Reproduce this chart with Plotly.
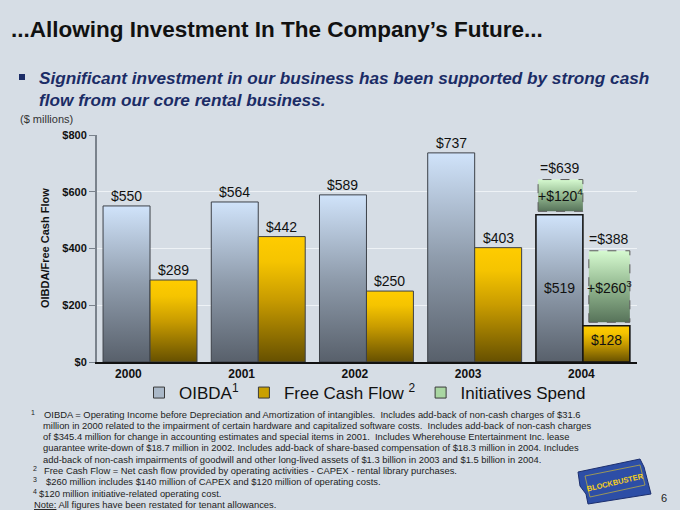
import plotly.graph_objects as go

# ---------------- data ----------------
years = ["2000", "2001", "2002", "2003", "2004"]
oibda = [550, 564, 589, 737, 519]
free_cash_flow = [289, 442, 250, 403, 128]
initiatives_oibda_2004 = 120
initiatives_fcf_2004 = 260
y_ticks = [0, 200, 400, 600, 800]
y_tick_labels = ["$0", "$200", "$400", "$600", "$800"]

# ---------------- style / layout ----------------
W, H = 680, 510
L, R, T, B = 97, 637, 135, 362          # plot area in px
FONT = "Liberation Sans, Arial, sans-serif"
BG = "#d6dde5"
BAR_W = 0.434
XR = [-0.49, 4.5]

OIBDA_SCALE = [[0, "#58606b"], [0.5, "#8f9cac"], [1, "#d0e3fa"]]
FCF_SCALE = [[0, "#665000"], [0.5, "#c99c00"], [0.8, "#f5c400"], [1, "#ffcc00"]]
GREEN_SCALE = [[0, "#57735a"], [0.5, "#93b890"], [1, "#d6fad0"]]


def px_x(p):
    return (p - L) / (R - L)


def px_y(p):
    return (B - p) / (B - T)


fig = go.Figure()


def add_bar(x0, x1, y0, y1, scale, border, bw, dash="solid"):
    fig.add_trace(go.Scatter(
        x=[x0, x1, x1, x0, x0], y=[y0, y0, y1, y1, y0],
        mode="lines", fill="toself",
        fillgradient=dict(type="vertical", colorscale=scale),
        line=dict(color=border, width=bw, dash=dash),
        hoverinfo="skip", showlegend=False))


LBL = dict(size=14, color="#111", family=FONT)
annotations = []
for i, yr in enumerate(years):
    last = i == len(years) - 1
    border = "#151515" if last else "#3c4048"
    bw = 1.6 if last else 1
    add_bar(i - BAR_W, i, 0, oibda[i], OIBDA_SCALE, border, bw)
    add_bar(i, i + BAR_W, 0, free_cash_flow[i], FCF_SCALE, border, bw)
    if not last:
        annotations.append(dict(x=i - BAR_W / 2, y=oibda[i], xref="x", yref="y",
                                text=f"${oibda[i]}", showarrow=False, xanchor="center",
                                yanchor="bottom", font=LBL))
        annotations.append(dict(x=i + BAR_W / 2, y=free_cash_flow[i], xref="x", yref="y",
                                text=f"${free_cash_flow[i]}", showarrow=False, xanchor="center",
                                yanchor="bottom", font=LBL))
    else:
        annotations.append(dict(x=i - BAR_W / 2, y=oibda[i] / 2, xref="x", yref="y",
                                text=f"${oibda[i]}", showarrow=False, xanchor="center",
                                yanchor="middle", font=LBL))
        annotations.append(dict(x=i + BAR_W / 2, y=free_cash_flow[i] / 2, xref="x", yref="y",
                                text=f"${free_cash_flow[i]}", showarrow=False, xanchor="center",
                                yanchor="middle", yshift=4, font=LBL))

# initiatives boxes for 2004
k = len(years) - 1
tot_o = oibda[k] + initiatives_oibda_2004
tot_f = free_cash_flow[k] + initiatives_fcf_2004
GAP = 12
for x0, x1, v, tot, extra, sup in [
    (k - BAR_W + 0.02, k, oibda[k], tot_o, initiatives_oibda_2004, "4"),
    (k + 0.055, k + BAR_W, free_cash_flow[k], tot_f, initiatives_fcf_2004, "3"),
]:
    y0, y1 = v + GAP, tot + 4
    add_bar(x0, x1, y0, y1, GREEN_SCALE, "#5a5a5a", 1, dash="dash")
    annotations.append(dict(x=(x0 + x1) / 2, y=(y0 + y1) / 2, xref="x", yref="y",
                            text=f"+${extra}<sup>{sup}</sup>", showarrow=False,
                            xanchor="center", yanchor="middle", font=LBL))
    annotations.append(dict(x=(x0 + x1) / 2, y=y1, xref="x", yref="y",
                            text=f"=${tot}", showarrow=False, xanchor="center",
                            yanchor="bottom", yshift=2, font=LBL))

# legend entries
for name, col in [("OIBDA<sup>1</sup>", "#aab8c8"),
                  ("Free Cash Flow <sup>2</sup>", "#c9a000"),
                  ("Initiatives Spend", "#a9d6a2")]:
    fig.add_trace(go.Scatter(x=[None], y=[None], mode="markers", name=name,
                             marker=dict(symbol="square", size=11, color=col,
                                         line=dict(color="#3a3a3a", width=1))))


def note(xp, yp, text, size, xanchor="left", yanchor="middle", **kw):
    d = dict(x=px_x(xp), y=px_y(yp), xref="paper", yref="paper", xanchor=xanchor,
             yanchor=yanchor, text=text, showarrow=False,
             font=dict(size=size, color=kw.pop("color", "#222"), family=FONT,
                       weight=kw.pop("weight", "normal")))
    d.update(kw)
    return d


annotations += [
    note(9, 30, "...Allowing Investment In The Company’s Future...", 22.5, color="#111", weight="bold"),
    note(37, 66, "<i>Significant investment in our business has been supported by strong cash<br>"
                 "flow from our core rental business.</i>", 17.2, yanchor="top",
         color="#1b2c66", weight="bold", align="left"),
    note(18, 119, "($ millions)", 11, color="#333"),
    note(45, 248, "OIBDA/Free Cash Flow", 11, xanchor="center", color="#111",
         weight="bold", textangle=-90),
    note(664, 498, "6", 11, xanchor="center"),
    note(615, 482, "BLOCKBUSTER", 7.5, xanchor="center", color="#f7d21b",
         weight="bold", textangle=-13),
]

foot = [
    (29, 42, "1", "OIBDA = Operating Income before Depreciation and Amortization of intangibles.  Includes add-back of non-cash charges of $31.6"),
    (None, 41, "", "million in 2000 related to the impairment of certain hardware and capitalized software costs.  Includes add-back of non-cash charges"),
    (None, 41, "", "of $345.4 million for change in accounting estimates and special items in 2001.  Includes Wherehouse Entertainment Inc. lease"),
    (None, 41, "", "guarantee write-down of $18.7 million in 2002. Includes add-back of share-based compensation of $18.3 million in 2004. Includes"),
    (None, 41, "", "add-back of non-cash impairments of goodwill and other long-lived assets of $1.3 billion in 2003 and $1.5 billion in 2004."),
    (31, 42, "2", "Free Cash Flow = Net cash flow provided by operating activities - CAPEX - rental library purchases."),
    (31, 44, "3", "$260 million includes $140 million of CAPEX and $120 million of operating costs."),
    (31, 37, "4", "$120 million initiative-related operating cost."),
    (None, 32, "", "<u>Note:</u> All figures have been restated for tenant allowances."),
]
fy0 = 414
for j, (sx, tx, sup, txt) in enumerate(foot):
    yy = fy0 + j * 11.3
    if sup:
        annotations.append(note(sx, yy - 2, sup, 7))
    annotations.append(note(tx, yy, txt, 9.4))

shapes = [
    dict(type="rect", xref="paper", yref="paper", x0=px_x(19), x1=px_x(25), y0=px_y(80), y1=px_y(74),
         fillcolor="#1b2c66", line=dict(width=0)),
    # ticket logo
    dict(type="path", xref="paper", yref="paper",
         path="M {} {} L {} {} L {} {} L {} {} L {} {} L {} {} L {} {} Z".format(
             px_x(578), px_y(472), px_x(640), px_y(459), px_x(644), px_y(467),
             px_x(651), px_y(494), px_x(588), px_y(504), px_x(586), px_y(494), px_x(580), px_y(486)),
         fillcolor="#2d4ea6", line=dict(color="#1d2f6e", width=1)),
    dict(type="path", xref="paper", yref="paper",
         path="M {} {} L {} {} L {} {} L {} {} Z".format(
             px_x(585), px_y(476), px_x(640), px_y(465), px_x(645), px_y(485), px_x(590), px_y(497)),
         fillcolor="rgba(0,0,0,0)", line=dict(color="#c9b43a", width=0.7)),
]

fig.update_layout(
    width=W, height=H, autosize=False,
    margin=dict(l=L, r=W - R, t=T, b=H - B, pad=0),
    paper_bgcolor=BG, plot_bgcolor=BG,
    font=dict(family=FONT, color="#111"),
    showlegend=True,
    legend=dict(orientation="h", x=px_x(139), y=px_y(393), xanchor="left", yanchor="middle",
                bgcolor="rgba(0,0,0,0)", font=dict(size=17, family=FONT, color="#111"),
                itemwidth=30, tracegroupgap=0),
    annotations=annotations,
    shapes=shapes,
    xaxis=dict(range=XR, showgrid=False, zeroline=False,
               tickvals=[-0.2 + 1.0465 * i for i in range(len(years))], ticktext=years,
               tickfont=dict(size=12, family=FONT, weight="bold", color="#111"),
               showline=True, linecolor="#111", linewidth=2, ticks=""),
    yaxis=dict(range=[0, 800], tickvals=y_ticks, ticktext=y_tick_labels,
               tickfont=dict(size=11, family=FONT, weight="bold", color="#111"),
               showgrid=True, gridcolor="#eef2f6", gridwidth=1, zeroline=False,
               showline=True, linecolor="#7a828c", linewidth=2,
               ticks="outside", ticklen=6, tickcolor="#7a828c"),
)

fig.write_html("out.html", config={"displayModeBar": False},
               post_script=f"document.body.style.margin='0';document.body.style.background='{BG}';")
